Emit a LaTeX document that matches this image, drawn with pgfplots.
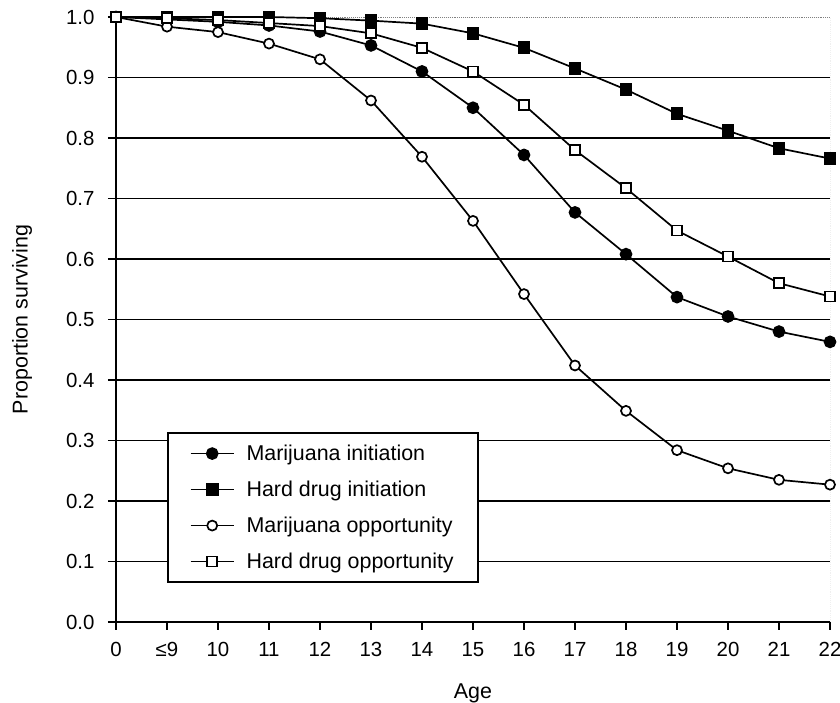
\documentclass[border=0pt]{standalone}
\usepackage{fontspec}
\setmainfont{Liberation Sans}
\usepackage{pgfplots}
\pgfplotsset{compat=1.18}

\begin{document}
\begin{tikzpicture}
\begin{axis}[
    scale only axis,
    width=714bp, height=605bp,
    xmin=0, xmax=14, ymin=0, ymax=1,
    axis x line*=bottom, axis y line*=left,
    axis line style={line width=1.7bp, black},
    xtick={0,...,14},
    xticklabels={0,≤9,10,11,12,13,14,15,16,17,18,19,20,21,22},
    ytick={0,0.1,0.2,0.3,0.4,0.5,0.6,0.7,0.8,0.9,1.0},
    /pgf/number format/.cd, fixed, fixed zerofill, precision=1, assume math mode=true,
    /pgfplots/.cd,
    tick align=outside,
    major tick length=8bp,
    tick style={black, line width=1.4bp},
    ticklabel style={font=\fontsize{20.5}{25}\selectfont},
    yticklabel style={xshift=-10bp},
    xticklabel style={yshift=-9bp},
    xlabel={Age}, ylabel={Proportion surviving},
    label style={font=\fontsize{21.5}{26}\selectfont},
    xlabel style={at={(axis description cs:0.5,-0.1174)}, anchor=center},
    ylabel style={at={(axis description cs:-0.1317,0.5)}, anchor=center},
    every axis plot/.append style={black, line width=1.7bp, mark options={solid, line width=1.4bp}},
    legend style={at={(rel axis cs:0.0714,0.0645)}, anchor=south west,
        draw=black, line width=1.8bp, fill=white,
        font=\fontsize{21.5}{26}\selectfont,
        inner xsep=22bp, inner ysep=10bp, row sep=15bp,
        /tikz/every odd column/.style={column sep=10bp}},
    legend cell align=left,
    legend image code/.code={
        \draw[mark repeat=2, mark phase=2] plot coordinates {(0bp,0bp) (21.5bp,0bp) (43bp,0bp)};
    },
]

% horizontal grid, top and right frame
\pgfplotsinvokeforeach{0.1,0.2,0.3,0.4,0.5,0.6,0.7,0.8,0.9}{
    \draw[black, line width=1.8bp] (axis cs:0,#1) -- (axis cs:14,#1);
}
\draw[gray, densely dotted, line width=0.9bp] (rel axis cs:0,1) -- (rel axis cs:1,1) -- (rel axis cs:1,0);

% Marijuana initiation
\addplot[mark=*, mark size=5.5bp, mark options={fill=black}] coordinates {
    (0,1.000) (1,0.996) (2,0.992) (3,0.986) (4,0.976) (5,0.953) (6,0.910)
    (7,0.850) (8,0.772) (9,0.677) (10,0.608) (11,0.537) (12,0.505) (13,0.480) (14,0.463)
};
\addlegendentry{Marijuana initiation}

% Hard drug initiation
\addplot[mark=square*, mark size=5.5bp, mark options={fill=black}] coordinates {
    (0,1.000) (1,1.000) (2,1.000) (3,1.000) (4,0.998) (5,0.994) (6,0.989)
    (7,0.973) (8,0.949) (9,0.915) (10,0.880) (11,0.840) (12,0.812) (13,0.783) (14,0.766)
};
\addlegendentry{Hard drug initiation}

% Marijuana opportunity
\addplot[mark=*, mark size=5bp, mark options={fill=white}] coordinates {
    (0,1.000) (1,0.984) (2,0.975) (3,0.956) (4,0.930) (5,0.862) (6,0.769)
    (7,0.663) (8,0.542) (9,0.424) (10,0.349) (11,0.284) (12,0.254) (13,0.235) (14,0.227)
};
\addlegendentry{Marijuana opportunity}

% Hard drug opportunity
\addplot[mark=square*, mark size=5bp, mark options={fill=white}] coordinates {
    (0,1.000) (1,0.998) (2,0.995) (3,0.990) (4,0.985) (5,0.973) (6,0.949)
    (7,0.910) (8,0.855) (9,0.780) (10,0.717) (11,0.647) (12,0.604) (13,0.560) (14,0.538)
};
\addlegendentry{Hard drug opportunity}

\coordinate (bl) at (rel axis cs:0,0);
\coordinate (tr) at (rel axis cs:1,1);
\end{axis}
\pgfresetboundingbox
\useasboundingbox ([xshift=-116bp,yshift=-81bp]bl) rectangle ([xshift=10bp,yshift=17bp]tr);
\end{tikzpicture}
\end{document}
